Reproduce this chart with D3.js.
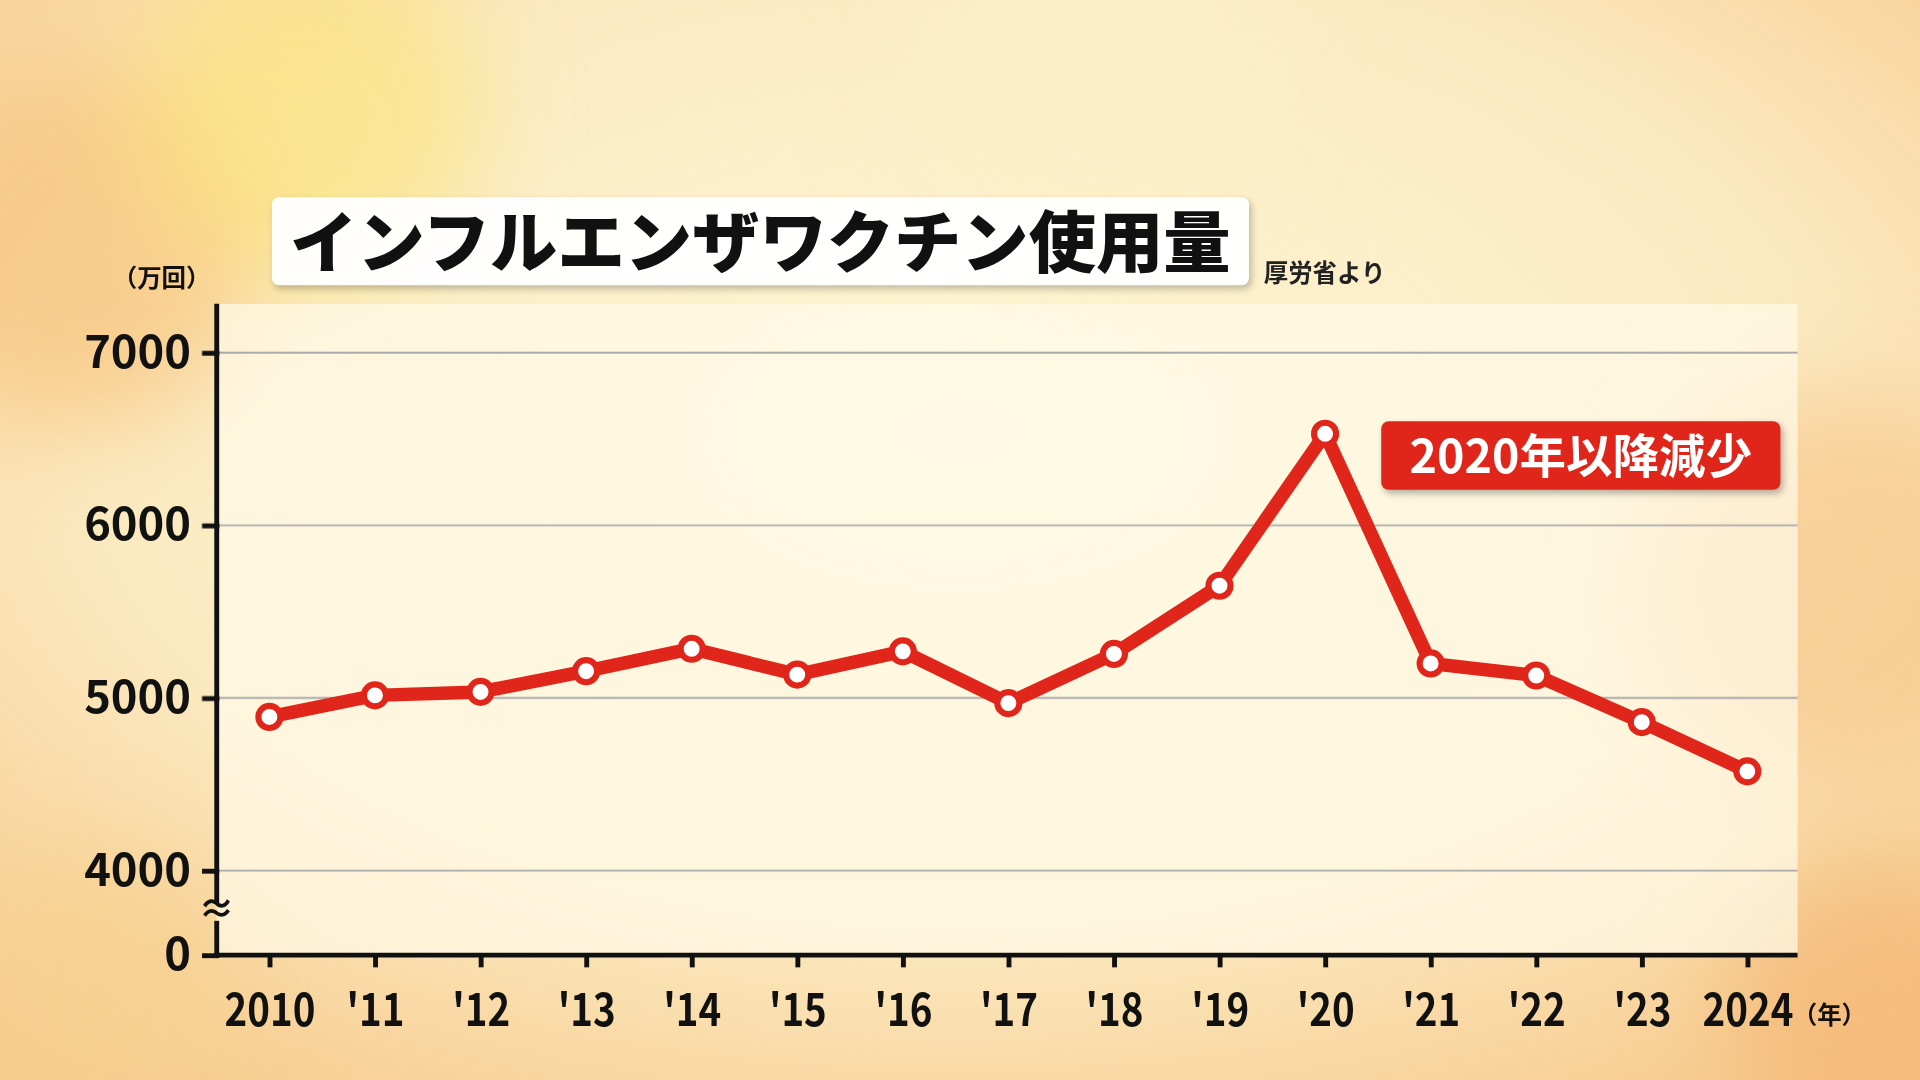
<!DOCTYPE html>
<html><head><meta charset="utf-8">
<script src="https://cdn.jsdelivr.net/npm/d3@7"></script>
<style>html,body{margin:0;padding:0;overflow:hidden;background:#fbefcf}</style>
</head><body>
<script>
const years = [2010,2011,2012,2013,2014,2015,2016,2017,2018,2019,2020,2021,2022,2023,2024];
const xLabels = ["2010","'11","'12","'13","'14","'15","'16","'17","'18","'19","'20","'21","'22","'23","2024"];
const values = [4890,5015,5035,5155,5285,5135,5270,4970,5255,5650,6530,5200,5130,4860,4575];
const yTicks = [0,4000,5000,6000,7000];
const gridTicks = [4000,5000,6000,7000];

const F = "'Noto Sans CJK JP','Noto Sans',sans-serif";
const svg = d3.select("body").append("svg").attr("width",1920).attr("height",1080).attr("viewBox","0 0 1568 882");
const defs = svg.append("defs");
const bg = defs.append("radialGradient").attr("id","bg").attr("cx","50%").attr("cy","40%").attr("r","75%");
bg.append("stop").attr("offset","0%").attr("stop-color","#fdf6d6");
bg.append("stop").attr("offset","60%").attr("stop-color","#fbeac0");
bg.append("stop").attr("offset","100%").attr("stop-color","#f7c98c");
svg.append("rect").attr("width",1568).attr("height",882).attr("fill","url(#bg)");
const blur = defs.append("filter").attr("id","bl").attr("x","-50%").attr("y","-50%").attr("width","200%").attr("height","200%");
blur.append("feGaussianBlur").attr("stdDeviation",40);
const blobs=[[60,200,150,"#f6c27a"],[250,90,140,"#f9e27f"],[1500,480,160,"#f6c68a"],[1530,820,120,"#f3b774"],[80,820,120,"#f7d08f"],[900,60,160,"#fcf0c8"]];
svg.append("g").attr("filter","url(#bl)").selectAll("circle").data(blobs).join("circle")
  .attr("cx",d=>d[0]).attr("cy",d=>d[1]).attr("r",d=>d[2]).attr("fill",d=>d[3]).attr("opacity",0.7);

const L=177,R=1468,T=248,B=780;
svg.append("rect").attr("x",L).attr("y",T).attr("width",R-L).attr("height",B-T).attr("fill","#fffbea").attr("opacity",0.7);

const x = d3.scalePoint().domain(years).range([220,1427]);
const y = d3.scaleLinear().domain([0,4000,7000]).range([780,711,288]);

svg.append("g").selectAll("line").data(gridTicks).join("line")
  .attr("x1",L).attr("x2",R).attr("y1",d=>y(d)).attr("y2",d=>y(d)).attr("stroke","#aaa").attr("stroke-width",1.5);

const yAxis = d3.axisLeft(y).tickValues(yTicks).tickSize(14).tickFormat(d3.format("d"));
const gy = svg.append("g").attr("transform",`translate(${L},0)`).call(yAxis);
gy.select(".domain").remove();
gy.selectAll(".tick line").attr("stroke","#111").attr("stroke-width",4).attr("transform","translate(2,0)");
gy.selectAll(".tick text").attr("font-family",F).attr("font-weight",700).attr("font-size",37).attr("fill","#111").attr("dx",-4);
const xAxis = d3.axisBottom(x).tickFormat((d,i)=>xLabels[i]).tickSize(10);
const gx = svg.append("g").attr("transform",`translate(0,${B})`).call(xAxis);
gx.select(".domain").remove();
gx.selectAll(".tick line").attr("stroke","#111").attr("stroke-width",4);
gx.selectAll(".tick text").attr("font-family",F).attr("font-weight",700).attr("font-size",37).attr("fill","#111")
  .attr("y",0).attr("dy",0).attr("transform","translate(0,58) scale(0.85,1)");
svg.append("line").attr("x1",L).attr("x2",L).attr("y1",T).attr("y2",738).attr("stroke","#111").attr("stroke-width",4);
svg.append("line").attr("x1",L).attr("x2",L).attr("y1",752).attr("y2",B+2).attr("stroke","#111").attr("stroke-width",4);
svg.append("line").attr("x1",L-2).attr("x2",R).attr("y1",B).attr("y2",B).attr("stroke","#111").attr("stroke-width",4);
svg.append("text").attr("x",L).attr("y",753).attr("text-anchor","middle").attr("font-family",F).attr("font-weight",700).attr("font-size",30).attr("fill","#111").text("≈");

svg.append("text").attr("x",132).attr("y",234).attr("text-anchor","middle").attr("font-family",F).attr("font-weight",700).attr("font-size",20).attr("fill","#111").text("（万回）");
svg.append("text").attr("x",1494).attr("y",836).attr("text-anchor","middle").attr("font-family",F).attr("font-weight",700).attr("font-size",20).attr("fill","#111").text("（年）");

svg.append("rect").attr("x",222).attr("y",161).attr("width",798).attr("height",72).attr("rx",6).attr("fill","#fff").attr("opacity",0.95)
  .style("filter","drop-shadow(2px 3px 3px rgba(0,0,0,0.25))");
svg.append("text").attr("x",621).attr("y",218).attr("text-anchor","middle").attr("font-family",F).attr("font-weight",900).attr("font-size",55).attr("fill","#111").text("インフルエンザワクチン使用量");
svg.append("text").attr("x",1032).attr("y",230).attr("font-family",F).attr("font-weight",700).attr("font-size",20).attr("fill","#222").text("厚労省より");

const line = d3.line().x((d,i)=>x(years[i])).y(d=>y(d));
svg.append("path").datum(values).attr("d",line).attr("fill","none").attr("stroke","#e0261a").attr("stroke-width",11).attr("stroke-linejoin","miter");
svg.append("g").selectAll("circle").data(values).join("circle")
  .attr("cx",(d,i)=>x(years[i])).attr("cy",d=>y(d)).attr("r",9).attr("fill","#fff").attr("stroke","#e0261a").attr("stroke-width",5);

svg.append("rect").attr("x",1128).attr("y",344).attr("width",326).attr("height",56).attr("rx",6).attr("fill","#e0261a")
  .style("filter","drop-shadow(2px 3px 3px rgba(0,0,0,0.3))");
svg.append("text").attr("x",1291).attr("y",386).attr("text-anchor","middle").attr("font-family",F).attr("font-weight",700).attr("font-size",38).attr("fill","#fff").text("2020年以降減少");
</script>
</body></html>
